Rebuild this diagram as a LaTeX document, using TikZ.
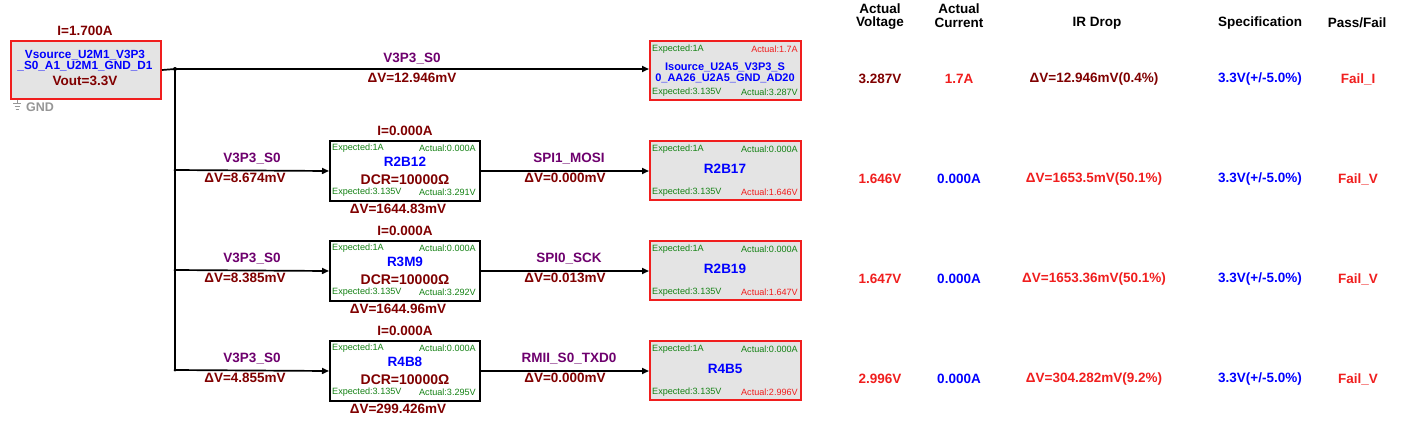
\documentclass[tikz,border=0pt]{standalone}
\usepackage{fontspec}
\setmainfont{Liberation Sans}
\usetikzlibrary{arrows.meta}
\definecolor{dred}{RGB}{128,0,0}
\definecolor{purp}{RGB}{110,0,110}
\definecolor{bblue}{RGB}{0,0,255}
\definecolor{rred}{RGB}{240,30,30}
\definecolor{ggreen}{RGB}{20,130,20}
\definecolor{lgray}{RGB}{228,228,228}
\definecolor{gndgray}{RGB}{150,150,150}
\begin{document}
\begin{tikzpicture}[x=1pt,y=-1pt,
  big/.style={font=\fontsize{13.5}{15}\selectfont\bfseries, inner sep=0pt},
  dcr/.style={font=\fontsize{14}{16}\selectfont\bfseries, inner sep=0pt, text=dred},
  med/.style={font=\fontsize{11.8}{13}\selectfont\bfseries, inner sep=0pt, text=bblue},
  medsm/.style={font=\fontsize{11}{13}\selectfont\bfseries, inner sep=0pt, text=bblue},
  tiny/.style={font=\fontsize{9.1}{10}\selectfont, inner sep=0pt, text=ggreen},
  srcbox/.style={draw=rred, line width=2pt, fill=lgray, minimum width=150pt, minimum height=58pt, inner sep=0pt, anchor=north west},
  loadbox/.style={draw=rred, line width=2pt, fill=lgray, minimum width=151pt, minimum height=59pt, anchor=north west, inner sep=0pt},
  resbox/.style={draw=black, line width=2pt, fill=white, minimum width=150pt, minimum height=60pt, anchor=north west, inner sep=0pt},
  wire/.style={line width=1.7pt},
  arr/.style={wire, -{Triangle[length=7pt,width=6pt]}},
]
\useasboundingbox (0,0) rectangle (1410,440);
\fill[white] (0,0) rectangle (1410,440);

% source
\node[srcbox] (src) at (10,40) {};
\node[big, text=dred] (isrc) at (85,31) {I=1.700A};
\node[med] (sn1) at (85,55) {Vsource\_U2M1\_V3P3};
\node[med] (sn2) at (85,66) {\_S0\_A1\_U2M1\_GND\_D1};
\node[big, text=dred] (vout) at (85,81) {Vout=3.3V};
\node[font=\fontsize{12.5}{14}\selectfont\bfseries, text=gndgray, anchor=west, inner sep=0pt] (gnd) at (26,107) {GND};
\draw[gndgray, line width=1pt] (17,100) -- (17,103) (13,103) -- (21,103) (14.5,106) -- (19.5,106) (15.5,109) -- (18.5,109);

% bus
\coordinate (j0) at (175,69);
\coordinate (jend) at (175,370);
\draw[wire] (src.east) -- (j0);
\draw[wire] (j0) -- (jend);
\fill (j0) circle (2pt);

% first load
\node[loadbox] (L0) at (649,40) {};
\draw[arr] (j0) -- (L0.west |- j0);
\node[big, text=purp] (w0) at (412,59) {V3P3\_S0};
\node[big, text=dred] (d0) at (412,78) {ΔV=12.946mV};
\node[tiny, anchor=west] (L0a) at (652,49) {Expected:1A};
\node[tiny, anchor=east, text=rred] (L0b) at (798,49) {Actual:1.7A};
\node[medsm] (L0n1) at (725,67) {Isource\_U2A5\_V3P3\_S};
\node[medsm] (L0n2) at (725,78) {0\_AA26\_U2A5\_GND\_AD20};
\node[tiny, anchor=west] (L0c) at (652,92) {Expected:3.135V};
\node[tiny, anchor=east] (L0d) at (798,92) {Actual:3.287V};

% resistor rows
\foreach \t/\rn/\av/\dres/\dv/\wn/\dvo/\ln/\lav in {
  140/R2B12/3.291V/1644.83mV/8.674mV/SPI1\_MOSI/0.000mV/R2B17/1.646V,
  240/R3M9/3.292V/1644.96mV/8.385mV/SPI0\_SCK/0.013mV/R2B19/1.647V,
  340/R4B8/3.295V/299.426mV/4.855mV/RMII\_S0\_TXD0/0.000mV/R4B5/2.996V}{
  \coordinate (j\t) at (175,\t+30);
  \fill (j\t) circle (1.5pt);
  \node[resbox] (M\t) at (329,\t) {};
  \node[loadbox] (L\t) at (649,\t) {};
  \draw[arr] (j\t) -- (M\t.west);
  \draw[arr] (M\t.east) -- (M\t.east -| L\t.west);
  \node[big, text=purp] at (252,\t+19) {V3P3\_S0};
  \node[big, text=dred] at (245,\t+38) {ΔV=\dv};
  \node[big, text=purp] at (569,\t+19) {\wn};
  \node[big, text=dred] at (565,\t+38) {ΔV=\dvo};
  \node[big, text=dred] at (405,\t-9) {I=0.000A};
  \node[tiny, anchor=west] at (332,\t+8) {Expected:1A};
  \node[tiny, anchor=east] at (476,\t+8) {Actual:0.000A};
  \node[big, text=bblue] at (405,\t+22) {\rn};
  \node[dcr] at (405,\t+40) {DCR=10000Ω};
  \node[tiny, anchor=west] at (332,\t+52) {Expected:3.135V};
  \node[tiny, anchor=east] at (476,\t+52) {Actual:\av};
  \node[big, text=dred] at (398,\t+69) {ΔV=\dres};
  \node[tiny, anchor=west] at (652,\t+9) {Expected:1A};
  \node[tiny, anchor=east] at (798,\t+9) {Actual:0.000A};
  \node[big, text=bblue] at (725,\t+29) {\ln};
  \node[tiny, anchor=west] at (652,\t+52) {Expected:3.135V};
  \node[tiny, anchor=east, text=rred] at (798,\t+52) {Actual:\lav};
}

% table header
\node[big] (h1a) at (880,9) {Actual};
\node[big] (h1b) at (880,23) {Voltage};
\node[big] (h2a) at (959,9) {Actual};
\node[big] (h2b) at (959,23) {Current};
\node[big] (h3) at (1097,23) {IR Drop};
\node[big] (h4) at (1260,23) {Specification};
\node[big] (h5) at (1357,23) {Pass/Fail};

% table rows
\node[big, text=dred] at (880,79) {3.287V};
\node[big, text=rred] at (959,79) {1.7A};
\node[big, text=dred] at (1094,79) {ΔV=12.946mV(0.4\%)};
\node[big, text=bblue] at (1260,79) {3.3V(+/-5.0\%)};
\node[big, text=rred] at (1358,79) {Fail\_I};

\node[big, text=rred] at (880,179) {1.646V};
\node[big, text=bblue] at (959,179) {0.000A};
\node[big, text=rred] at (1094,179) {ΔV=1653.5mV(50.1\%)};
\node[big, text=bblue] at (1260,179) {3.3V(+/-5.0\%)};
\node[big, text=rred] at (1358,179) {Fail\_V};

\node[big, text=rred] at (880,279) {1.647V};
\node[big, text=bblue] at (959,279) {0.000A};
\node[big, text=rred] at (1094,279) {ΔV=1653.36mV(50.1\%)};
\node[big, text=bblue] at (1260,279) {3.3V(+/-5.0\%)};
\node[big, text=rred] at (1358,279) {Fail\_V};

\node[big, text=rred] at (880,379) {2.996V};
\node[big, text=bblue] at (959,379) {0.000A};
\node[big, text=rred] at (1094,379) {ΔV=304.282mV(9.2\%)};
\node[big, text=bblue] at (1260,379) {3.3V(+/-5.0\%)};
\node[big, text=rred] at (1358,379) {Fail\_V};
\end{tikzpicture}
\end{document}
